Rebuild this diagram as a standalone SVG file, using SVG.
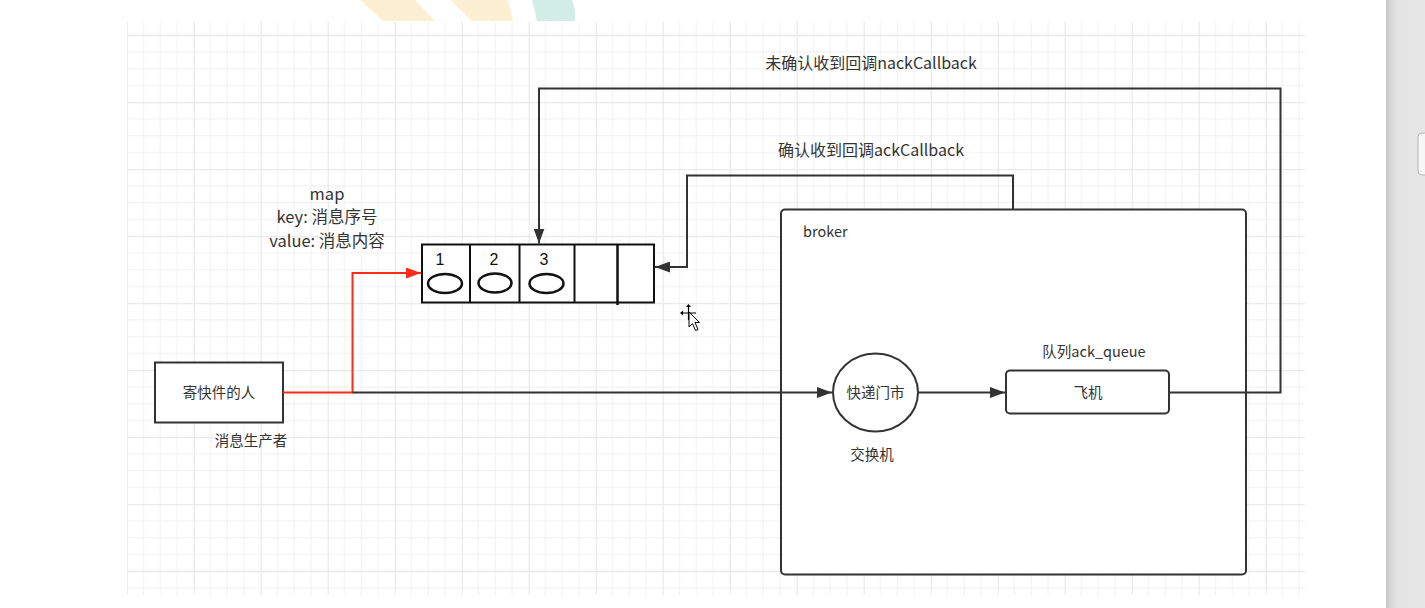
<svg xmlns="http://www.w3.org/2000/svg" width="1425" height="608" viewBox="0 0 1425 608">
  <defs>
    <pattern id="grid" patternUnits="userSpaceOnUse" x="126.7" y="35.2" width="67" height="67">
      <path d="M16.75,0 V67 M33.5,0 V67 M50.25,0 V67 M0,16.75 H67 M0,33.5 H67 M0,50.25 H67" stroke="#f1f1f1" stroke-width="1" fill="none"/>
      <path d="M0.5,0 V67 M0,0.5 H67" stroke="#e5e5e5" stroke-width="1" fill="none"/>
    </pattern>
    <linearGradient id="sb" x1="0" x2="1" y1="0" y2="0">
      <stop offset="0" stop-color="#c6c6c6"/>
      <stop offset="0.15" stop-color="#dadada"/>
      <stop offset="0.3" stop-color="#e4e4e4"/>
      <stop offset="1" stop-color="#e7e7e7"/>
    </linearGradient>
    <marker id="ah" markerUnits="userSpaceOnUse" markerWidth="15" markerHeight="11" refX="15" refY="5.5" orient="auto">
      <path d="M0,0 L15,5.5 L0,11 Z" fill="#333333"/>
    </marker>
    <marker id="ahr" markerUnits="userSpaceOnUse" markerWidth="15" markerHeight="11" refX="15" refY="5.5" orient="auto">
      <path d="M0,0 L15,5.5 L0,11 Z" fill="#ff2a1a"/>
    </marker>
    <style>
      .t { font-family: "Noto Sans CJK SC", "Liberation Sans", sans-serif; fill: #333333; }
      .s14 { font-size: 14.5px; }
      .s16 { font-size: 16px; }
      .s17 { font-size: 16.5px; }
      .num { font-family: "Liberation Sans", sans-serif; font-size: 16px; fill: #111111; }
      .box { fill: #ffffff; stroke: #333333; stroke-width: 2; }
      .ln { fill: none; stroke: #333333; stroke-width: 2; }
      .cell { fill: none; stroke: #111111; stroke-width: 2; }
    </style>
  </defs>

  <rect x="0" y="0" width="1425" height="608" fill="#ffffff"/>
  <!-- background logo fragments -->
  <polygon points="360,0 415,0 435,21 383,21" fill="#fdf0d2"/>
  <polygon points="450,0 508,0 513,21 472,21" fill="#fdf0d2"/>
  <path d="M532,0 H572 Q576,10 575,21 H537 Q535,10 532,0 Z" fill="#d2ece6"/>
  <!-- grid -->
  <rect x="127" y="22" width="1178" height="573" fill="url(#grid)"/>
  <!-- scrollbar -->
  <rect x="1386" y="0" width="39" height="608" fill="url(#sb)"/>
  <rect x="1418" y="133" width="12" height="42" rx="4" fill="#f7f7f7" stroke="#b5b5b5" stroke-width="1"/>

  <g id="labels">
    <text class="t s16" x="871" y="69" text-anchor="middle">未确认收到回调nackCallback</text>
    <text class="t s16" x="871" y="156" text-anchor="middle">确认收到回调ackCallback</text>
  </g>

  <g id="map">
    <text class="t s17" x="327" y="200" text-anchor="middle">map</text>
    <text class="t s17" x="327" y="223" text-anchor="middle">key: 消息序号</text>
    <text class="t s17" x="327" y="247" text-anchor="middle">value: 消息内容</text>
    <rect x="422" y="244.5" width="232" height="58" fill="#ffffff" stroke="#111111" stroke-width="2"/>
    <line class="cell" x1="470" y1="244.5" x2="470" y2="302.5"/>
    <line class="cell" x1="519.5" y1="244.5" x2="519.5" y2="302.5"/>
    <line class="cell" x1="574.5" y1="244.5" x2="574.5" y2="302.5"/>
    <line x1="617.5" y1="244.5" x2="617.5" y2="305" stroke="#111111" stroke-width="2.5"/>
    <text class="num" x="440" y="265" text-anchor="middle">1</text>
    <text class="num" x="494" y="265" text-anchor="middle">2</text>
    <text class="num" x="544" y="265" text-anchor="middle">3</text>
    <ellipse cx="445" cy="283.5" rx="17" ry="9.5" fill="none" stroke="#111111" stroke-width="2.5"/>
    <ellipse cx="495" cy="283" rx="16.5" ry="9.5" fill="none" stroke="#111111" stroke-width="2.5"/>
    <ellipse cx="546.5" cy="283.5" rx="17" ry="9.5" fill="none" stroke="#111111" stroke-width="2.5"/>
  </g>

  <g id="sender">
    <rect class="box" x="155" y="362.5" width="128" height="60"/>
    <text class="t s14" x="219" y="397.5" text-anchor="middle">寄快件的人</text>
    <text class="t s14" x="251" y="446" text-anchor="middle">消息生产者</text>
  </g>

  <g id="broker">
    <rect class="box" x="781" y="209.5" width="465" height="365" rx="4"/>
    <text class="t s14" x="803" y="237">broker</text>
  </g>

  <g id="exchange">
    <ellipse cx="875.5" cy="392.5" rx="42.5" ry="39" fill="#ffffff" stroke="#333333" stroke-width="2"/>
    <text class="t s14" x="875.5" y="397.5" text-anchor="middle">快递门市</text>
    <text class="t s14" x="872" y="460" text-anchor="middle">交换机</text>
  </g>

  <g id="queue">
    <text class="t s14" x="1094" y="357" text-anchor="middle">队列ack_queue</text>
    <rect class="box" x="1006" y="370.5" width="163" height="43" rx="4"/>
    <text class="t s14" x="1088" y="397.5" text-anchor="middle">飞机</text>
  </g>

  <g id="connectors">
    <path d="M283,392.5 H352.5 V273 H421" fill="none" stroke="#ff2a1a" stroke-width="2" marker-end="url(#ahr)"/>
    <path class="ln" d="M352.5,392.5 H832" marker-end="url(#ah)"/>
    <path class="ln" d="M918,392.5 H1005" marker-end="url(#ah)"/>
    <path class="ln" d="M1169,392.5 H1280.5 V88.5 H539 V243.5" marker-end="url(#ah)"/>
    <path class="ln" d="M1013,209 V175.5 H687 V267 H655" marker-end="url(#ah)"/>
  </g>

  <!-- mouse cursor -->
  <g id="cursor" stroke="#000000" stroke-width="1.2" fill="#000000">
    <path d="M681,313 H696 M688.5,305 V320" fill="none"/>
    <path d="M680,313 L683,310.5 L683,315.5 Z M688.5,304 L686,307 L691,307 Z" stroke="none"/>
    <path d="M689,312 L689,327 L692.5,323.5 L695.5,330.5 L698,329.5 L695,322.5 L699.5,322.5 Z" fill="#ffffff" stroke="#000000" stroke-width="1"/>
  </g>
</svg>
